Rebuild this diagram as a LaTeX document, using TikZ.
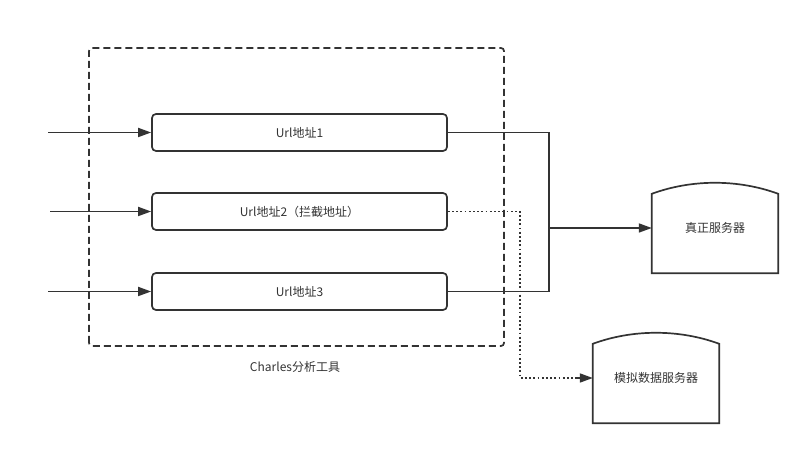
\documentclass[tikz,border=0pt]{standalone}
\usepackage{fontspec}
\setmainfont{Noto Sans CJK SC}
\usetikzlibrary{arrows.meta,calc}
\definecolor{linegray}{HTML}{333333}
\begin{document}
\begin{tikzpicture}[x=1pt,y=1pt,>={Triangle[length=13pt,width=9pt]},
    every node/.style={font=\fontsize{12}{14}\selectfont,text=linegray},
    urlbox/.style={draw=linegray,line width=1.7pt,rounded corners=4pt,minimum width=295pt,minimum height=37pt,inner sep=0pt},
    server/.style={minimum width=126pt,minimum height=90pt,inner sep=0pt},
    link/.style={draw=linegray,line width=1.7pt}]
    \useasboundingbox (0,0) rectangle (810,454);
    % dashed frame of the tool
    \draw [linegray,line width=1.7pt,dash pattern=on 7pt off 4pt,rounded corners=3pt] (89,108) rectangle (504,406);
    \node (tool) at (295,87) {Charles分析工具};
    % the three urls
    \node [urlbox] (url1) at (299.5,321.5) {Url地址1};
    \node [urlbox] (url2) at (299.5,242.5) {Url地址2（拦截地址）};
    \node [urlbox] (url3) at (299.5,162.5) {Url地址3};
    \coordinate (in1) at (48,321.5);
    \coordinate (in2) at (50,242.5);
    \coordinate (in3) at (48,162.5);
    \draw [link,->] (in1) -- (url1);
    \draw [link,->] (in2) -- (url2);
    \draw [link,->] (in3) -- (url3);
    % servers
    \node [server] (real) at (715,226) {真正服务器};
    \node [server] (mock) at (656,76) {模拟数据服务器};
    \foreach \s in {real,mock}
        \draw [linegray,line width=1.7pt] (\s.south west) -- ([yshift=-11pt]\s.north west)
            .. controls ([xshift=40pt,yshift=3.7pt]\s.north west) and ([xshift=-40pt,yshift=3.7pt]\s.north east)
            .. ([yshift=-11pt]\s.north east) -- (\s.south east) -- cycle;
    % joins to the real server
    \coordinate (join) at (549,226);
    \draw [link] (url1.east) -| (join);
    \draw [link] (url3.east) -| (join);
    \draw [link,->] (join) -- (real.west |- join);
    % intercepted one goes to the mock
    \coordinate (bend) at (520,242.5);
    \draw [link,dash pattern=on 1.8pt off 2.4pt] (url2.east) -- (bend) |- (mock.west);
    \draw [link,->] ($(mock.west)+(-16,0)$) -- (mock.west);
\end{tikzpicture}
\end{document}
